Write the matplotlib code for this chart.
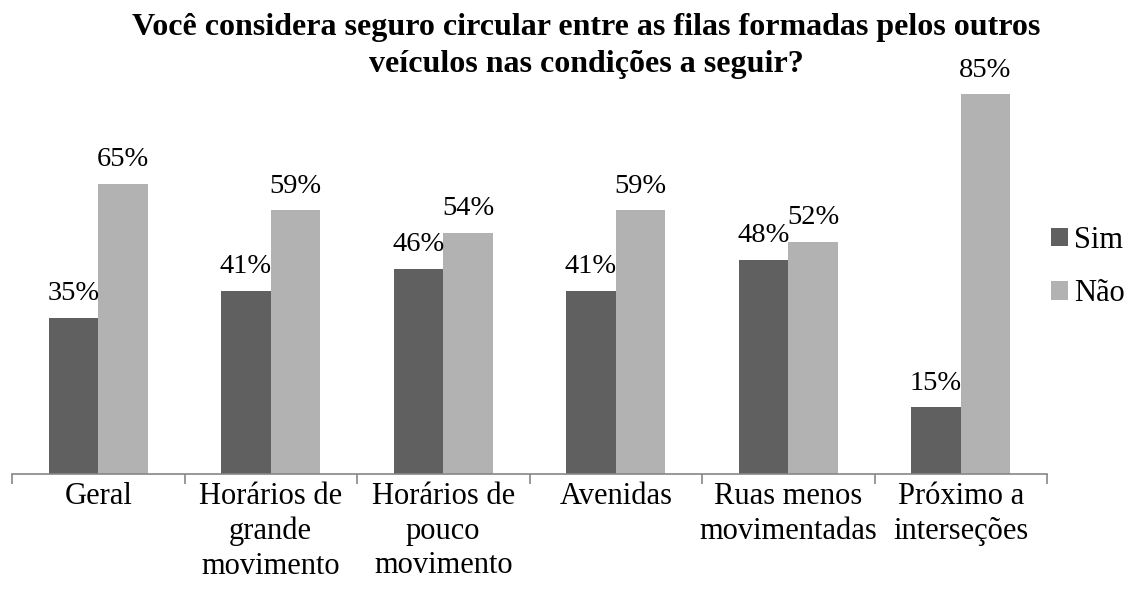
import matplotlib
matplotlib.use("Agg")
import matplotlib.pyplot as plt
import numpy as np

categories = ["Geral", "Horários de\ngrande\nmovimento", "Horários de\npouco\nmovimento",
              "Avenidas", "Ruas menos\nmovimentadas", "Próximo a\ninterseções"]
sim = [35, 41, 46, 41, 48, 15]
nao = [65, 59, 54, 59, 52, 85]
series_names = ["Sim", "Não"]
title_lines = ["Você considera seguro circular entre as filas formadas pelos outros",
               "veículos nas condições a seguir?"]

plt.rcParams['font.family'] = ['Liberation Serif', 'DejaVu Serif']

W, H = 1135, 599
fig = plt.figure(figsize=(W/100, H/100), dpi=100)
left, right, bottom, top = 12, 1047, 474, 72
ax = fig.add_axes([left/W, 1-bottom/H, (right-left)/W, (bottom-top)/H])

x = np.arange(len(categories))
bw = 0.287
c_sim = "#606060"
c_nao = "#b2b2b2"
b1 = ax.bar(x - bw/2, sim, bw, color=c_sim, label=series_names[0])
b2 = ax.bar(x + bw/2, nao, bw, color=c_nao, label=series_names[1])
for bars, vals in ((b1, sim), (b2, nao)):
    for r, v in zip(bars, vals):
        ax.text(r.get_x() + r.get_width()/2, v + 3.9, f"{v}%", ha="center", va="baseline", fontsize=20.5)

ax.set_xlim(-0.5, len(categories) - 0.5)
ax.set_ylim(0, 90)
for s in ["top", "right", "left"]:
    ax.spines[s].set_visible(False)
ax.spines["bottom"].set_color("#868686")
ax.spines["bottom"].set_linewidth(1.2)
ax.set_yticks([])
ax.set_xticks(np.arange(len(categories) + 1) - 0.5, minor=False)
ax.set_xticklabels([])
ax.tick_params(axis="x", which="major", length=7, color="#868686", width=1.2, direction="out")
ax.set_xticks(x, minor=True)
ax.set_xticklabels(categories, minor=True, fontsize=22, linespacing=1.25)
ax.tick_params(axis="x", which="minor", length=0, pad=6)

for line, base_y in zip(title_lines, (35, 72)):
    fig.text(586/W, 1-base_y/H, line, ha="center", va="baseline", fontsize=23, fontweight="bold")

leg = fig.legend(handles=[b1, b2], labels=series_names, loc="center left",
                 bbox_to_anchor=(1051/W, 1-267/H), frameon=False, fontsize=22,
                 borderaxespad=0, borderpad=0,
                 handlelength=0.55, handleheight=0.55, handletextpad=0.2, labelspacing=0.8)

fig.savefig("out.png", dpi=100)
